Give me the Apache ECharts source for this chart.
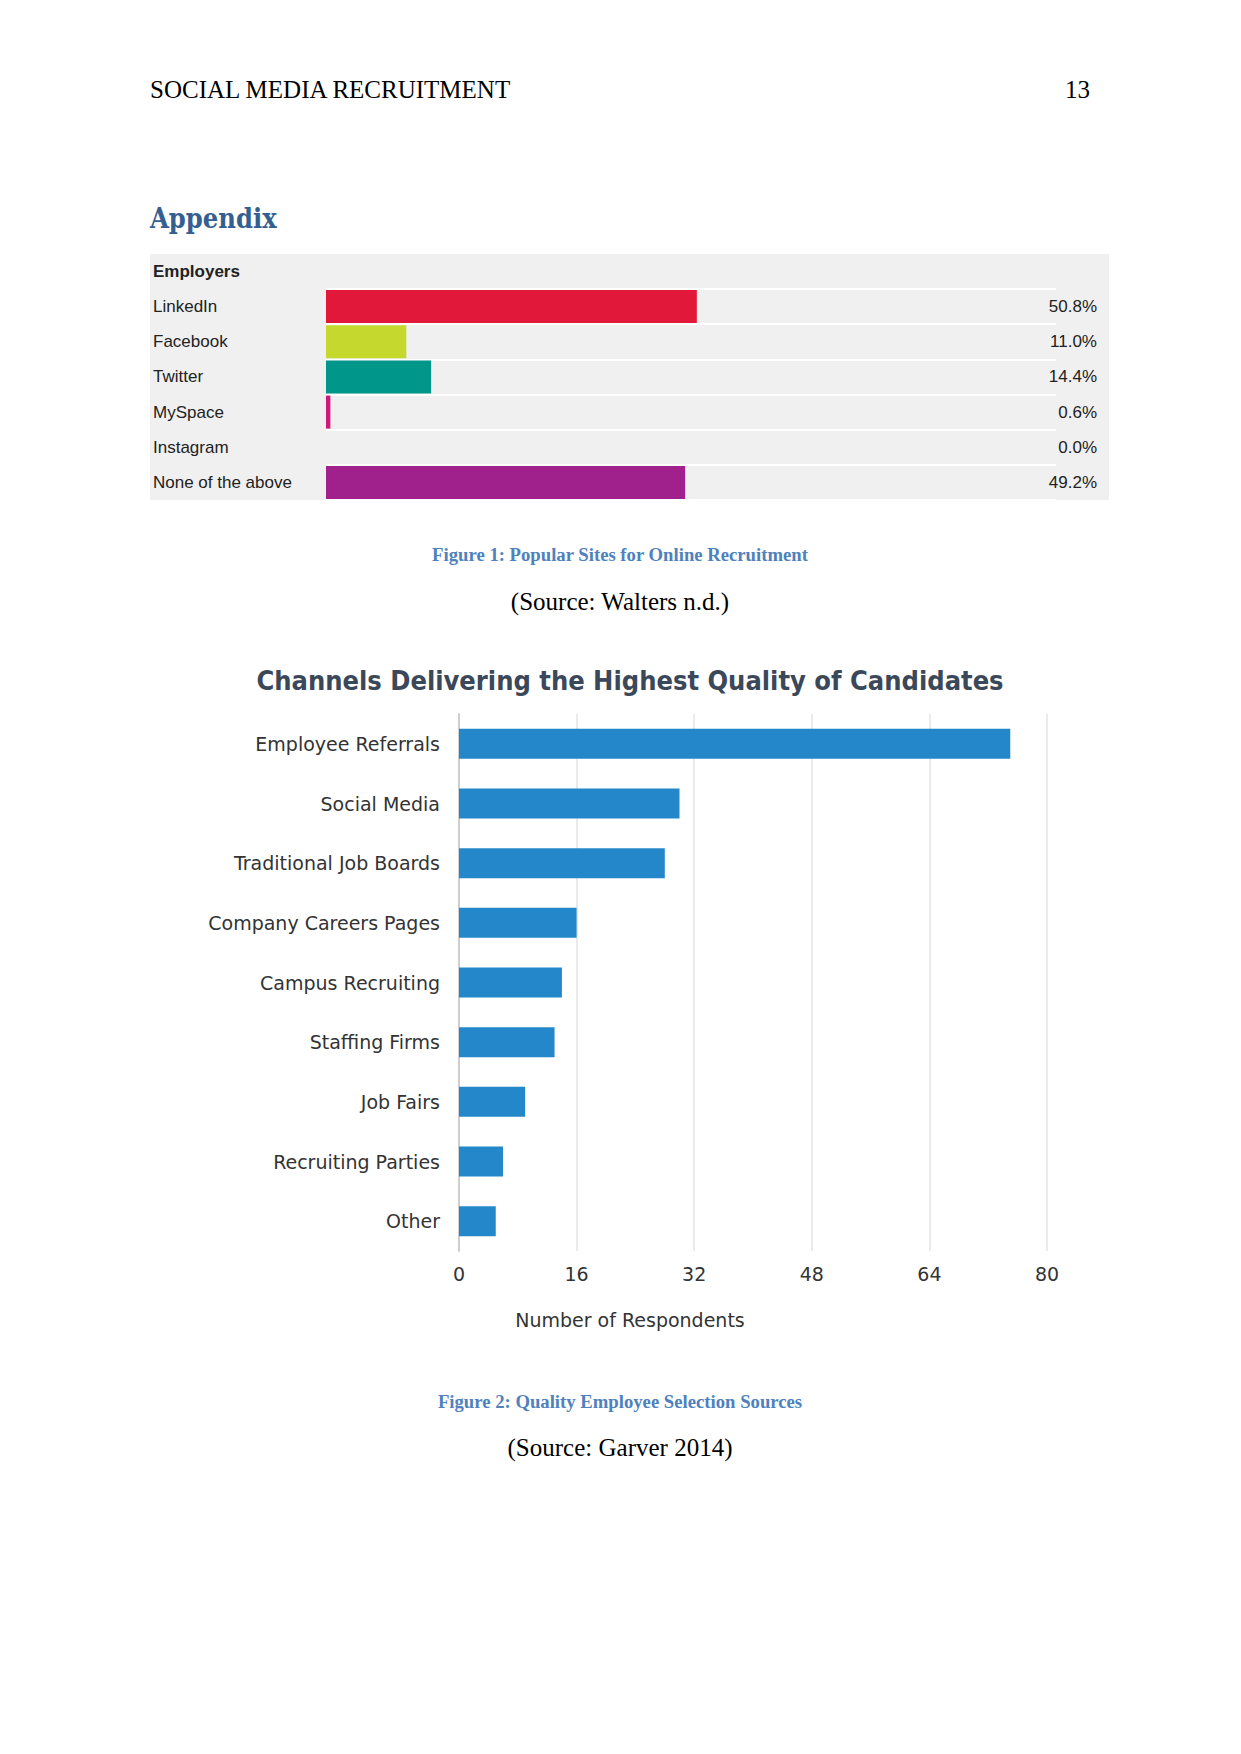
<!DOCTYPE html>
<html><head><meta charset="utf-8">
<script src="https://cdn.jsdelivr.net/npm/echarts@6/dist/echarts.min.js"></script>
<style>html,body{margin:0;padding:0;background:#fff}#c{width:1241px;height:1754px}</style>
</head><body><div id="c"></div>
<script>
// Figure 1 data
const siteCategories = ['LinkedIn', 'Facebook', 'Twitter', 'MySpace', 'Instagram', 'None of the above'];
const siteValues = [50.8, 11.0, 14.4, 0.6, 0.0, 49.2];
const siteColors = ['#e2183a', '#c4d82e', '#00968a', '#d0177b', '#999999', '#a0218b'];
// Figure 2 data
const channelCategories = ['Employee Referrals', 'Social Media', 'Traditional Job Boards', 'Company Careers Pages', 'Campus Recruiting', 'Staffing Firms', 'Job Fairs', 'Recruiting Parties', 'Other'];
const channelValues = [75, 30, 28, 16, 14, 13, 9, 6, 5];
const channelTicks = [0, 16, 32, 48, 64, 80];

const chart = echarts.init(document.getElementById('c'), null, {renderer: 'svg', width: 1241, height: 1754});
const serif = "'Liberation Serif', 'Times New Roman', serif";
const narrow = "'Liberation Sans Narrow', 'Liberation Sans', Arial, sans-serif";
const sans2 = "'DejaVu Sans', Verdana, sans-serif";

chart.setOption({
  backgroundColor: '#ffffff',
  animation: false,
  graphic: [
    {type: 'text', left: 150, top: 77, style: {text: 'SOCIAL MEDIA RECRUITMENT', font: '25px ' + serif, fill: '#000'}},
    {type: 'text', right: 151, top: 77, style: {text: '13', font: '25px ' + serif, fill: '#000'}},
    {type: 'text', left: 150, top: 205, style: {text: 'Appendix', font: 'bold 27px ' + "'DejaVu Serif Condensed', 'DejaVu Serif', serif", fill: '#365f91'}},
    {type: 'rect', shape: {x: 150, y: 254, width: 959, height: 246}, style: {fill: '#f0f0f0'}, z: -1},
    {type: 'text', left: 153, top: 263, style: {text: 'Employers', font: 'bold 17px ' + narrow, fill: '#222'}},
    {type: 'text', x: 620, y: 554, style: {text: 'Figure 1: Popular Sites for Online Recruitment', font: 'bold 18.7px ' + serif, fill: '#4f81bd', textAlign: 'center', textVerticalAlign: 'middle'}},
    {type: 'text', x: 620, y: 601, style: {text: '(Source: Walters n.d.)', font: '25px ' + serif, fill: '#000', textAlign: 'center', textVerticalAlign: 'middle'}},
    {type: 'text', x: 630, y: 680, style: {text: 'Channels Delivering the Highest Quality of Candidates', font: 'bold 27px ' + "'DejaVu Sans Condensed', 'DejaVu Sans', sans-serif", fill: '#3b4859', textAlign: 'center', textVerticalAlign: 'middle'}},
    {type: 'text', x: 620, y: 1401, style: {text: 'Figure 2: Quality Employee Selection Sources', font: 'bold 18.7px ' + serif, fill: '#4f81bd', textAlign: 'center', textVerticalAlign: 'middle'}},
    {type: 'text', x: 620, y: 1447, style: {text: '(Source: Garver 2014)', font: '25px ' + serif, fill: '#000', textAlign: 'center', textVerticalAlign: 'middle'}}
  ],
  grid: [
    {left: 326, top: 289, width: 730, height: 211},
    {left: 459, top: 714, width: 588, height: 537}
  ],
  xAxis: [
    {gridIndex: 0, type: 'value', min: 0, max: 100, show: false},
    {gridIndex: 1, type: 'value', min: 0, max: 80, interval: 16,
     axisLine: {show: false}, axisTick: {show: false},
     splitLine: {show: true, lineStyle: {color: '#e3e3e3', width: 1.5}},
     axisLabel: {margin: 13, fontSize: 19, color: '#333', fontFamily: sans2},
     name: 'Number of Respondents', nameLocation: 'middle', nameGap: 59,
     nameTextStyle: {fontSize: 19, color: '#333', fontFamily: sans2, padding: [0, 246, 0, 0]}}
  ],
  yAxis: [
    {gridIndex: 0, type: 'category', data: siteCategories, inverse: true,
     axisLine: {show: false}, axisTick: {show: false},
     splitLine: {show: true, lineStyle: {color: '#ffffff', width: 2}},
     axisLabel: {align: 'left', margin: 173, fontSize: 17, color: '#222', fontFamily: narrow}},
    {gridIndex: 0, type: 'category', data: siteValues.map(v => v.toFixed(1) + '%'), inverse: true, position: 'right',
     axisLine: {show: false}, axisTick: {show: false}, splitLine: {show: false},
     axisLabel: {align: 'right', margin: 41, fontSize: 17, color: '#222', fontFamily: narrow}},
    {gridIndex: 1, type: 'category', data: channelCategories, inverse: true,
     axisLine: {show: true, lineStyle: {color: '#cfcfcf', width: 2}}, axisTick: {show: false},
     axisLabel: {margin: 19, fontSize: 19, color: '#333', fontFamily: sans2}}
  ],
  series: [
    {type: 'bar', xAxisIndex: 0, yAxisIndex: 0, barCategoryGap: '6%',
     data: siteValues.map((v, i) => ({value: v, itemStyle: {color: siteColors[i]}}))},
    {type: 'bar', xAxisIndex: 1, yAxisIndex: 2, barWidth: 30,
     itemStyle: {color: '#2487ca'}, data: channelValues}
  ]
});
</script></body></html>
